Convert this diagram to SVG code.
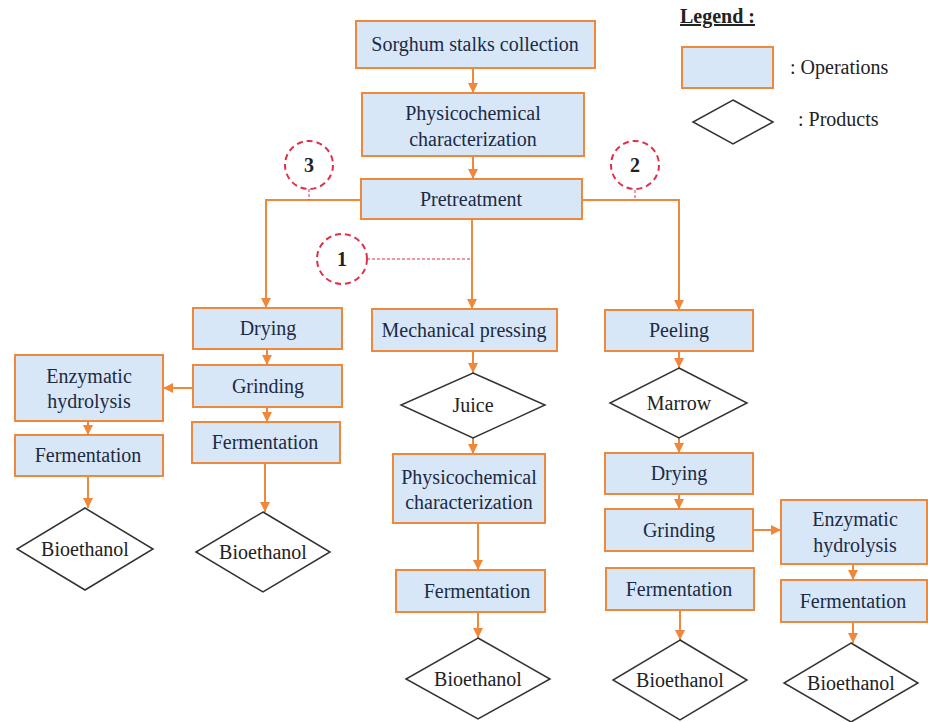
<svg xmlns="http://www.w3.org/2000/svg" width="928" height="722" viewBox="0 0 928 722">
<defs>
<style>
text{font-family:'Liberation Serif','DejaVu Serif',serif;font-size:20px}
.op{fill:#d8e7f8;stroke:#f0883c;stroke-width:2}
.pr{fill:#fff;stroke:#333;stroke-width:1.5}
.t{fill:#1c2a44;text-anchor:middle}
.tp{fill:#222;text-anchor:middle}
.c{fill:none;stroke:#f0883c;stroke-width:2}
.cir{fill:#fff;stroke:#e0304a;stroke-width:2;stroke-dasharray:6,4}
.dot{fill:none;stroke:#e0304a;stroke-width:1;stroke-dasharray:3,2}
.n{font-weight:bold;fill:#222;text-anchor:middle}
.lg{fill:#222}
</style>
<marker id="ah" markerUnits="userSpaceOnUse" markerWidth="10" markerHeight="10" refX="10" refY="5" orient="auto">
<path d="M0,0 L10,5 L0,10 z" fill="#f0883c"/>
</marker>
</defs>
<rect width="928" height="722" fill="#fff"/>

<g id="connectors">
<path class="c" marker-end="url(#ah)" d="M473,68 V93"/>
<path class="c" marker-end="url(#ah)" d="M473,156 V179"/>
<path class="c" marker-end="url(#ah)" d="M361,200 H266 V308"/>
<path class="c" marker-end="url(#ah)" d="M582,200 H679 V310"/>
<path class="c" marker-end="url(#ah)" d="M472,219 V309"/>
<path class="c" marker-end="url(#ah)" d="M267,349 V365"/>
<path class="c" marker-end="url(#ah)" d="M267,407 V422"/>
<path class="c" marker-end="url(#ah)" d="M193,388 H163"/>
<path class="c" marker-end="url(#ah)" d="M88,421 V435"/>
<path class="c" marker-end="url(#ah)" d="M88,476 V508"/>
<path class="c" marker-end="url(#ah)" d="M265,463 V512"/>
<path class="c" marker-end="url(#ah)" d="M473,351 V373"/>
<path class="c" marker-end="url(#ah)" d="M473,438 V454"/>
<path class="c" marker-end="url(#ah)" d="M478,523 V570"/>
<path class="c" marker-end="url(#ah)" d="M478,612 V638"/>
<path class="c" marker-end="url(#ah)" d="M679,351 V368"/>
<path class="c" marker-end="url(#ah)" d="M679,438 V453"/>
<path class="c" marker-end="url(#ah)" d="M679,494 V509"/>
<path class="c" marker-end="url(#ah)" d="M680,610 V640"/>
<path class="c" marker-end="url(#ah)" d="M753,530 H781"/>
<path class="c" marker-end="url(#ah)" d="M853,564 V580"/>
<path class="c" marker-end="url(#ah)" d="M853,622 V643"/>
<path class="dot" d="M309,189 V200"/>
<path class="dot" d="M635,190 V200"/>
<path class="dot" d="M367,259 H472"/>
</g>

<g id="n-collect"><rect class="op" x="356" y="21" width="239" height="47"/><text class="t" x="475" y="51">Sorghum stalks collection</text></g>
<g id="n-physico1"><rect class="op" x="362" y="93" width="222" height="63"/><text class="t" x="473" y="120">Physicochemical</text><text class="t" x="473" y="146">characterization</text></g>
<g id="n-pretreat"><rect class="op" x="361" y="179" width="221" height="40"/><text class="t" x="471" y="206">Pretreatment</text></g>

<g id="c3"><circle class="cir" cx="309" cy="165" r="24"/><text class="n" x="309" y="172">3</text></g>
<g id="c2"><circle class="cir" cx="635" cy="165" r="24"/><text class="n" x="635" y="172">2</text></g>
<g id="c1"><circle class="cir" cx="342" cy="259" r="25"/><text class="n" x="342" y="266">1</text></g>

<g id="n-drying1"><rect class="op" x="193" y="308" width="149" height="41"/><text class="t" x="268" y="335">Drying</text></g>
<g id="n-grind1"><rect class="op" x="193" y="365" width="149" height="42"/><text class="t" x="268" y="393">Grinding</text></g>
<g id="n-ferm1b"><rect class="op" x="192" y="422" width="148" height="41"/><text class="t" x="265" y="449">Fermentation</text></g>
<g id="n-enz1"><rect class="op" x="15" y="355" width="148" height="66"/><text class="t" x="89" y="383">Enzymatic</text><text class="t" x="89" y="408">hydrolysis</text></g>
<g id="n-ferm1a"><rect class="op" x="15" y="435" width="148" height="41"/><text class="t" x="88" y="462">Fermentation</text></g>
<g id="n-bio1a"><polygon class="pr" points="85,508 153,549 85,590 17,549"/><text class="tp" x="85" y="556">Bioethanol</text></g>
<g id="n-bio1b"><polygon class="pr" points="263,512 330,552 263,592 196,552"/><text class="tp" x="263" y="559">Bioethanol</text></g>

<g id="n-mech"><rect class="op" x="372" y="309" width="185" height="42"/><text class="t" x="464" y="337">Mechanical pressing</text></g>
<g id="n-juice"><polygon class="pr" points="473,373 545,405 473,438 401,405"/><text class="tp" x="473" y="412">Juice</text></g>
<g id="n-physico2"><rect class="op" x="393" y="454" width="152" height="69"/><text class="t" x="469" y="484">Physicochemical</text><text class="t" x="469" y="509">characterization</text></g>
<g id="n-ferm2"><rect class="op" x="396" y="570" width="149" height="42"/><text class="t" x="477" y="598">Fermentation</text></g>
<g id="n-bio2"><polygon class="pr" points="478,638 550,679 478,719 406,679"/><text class="tp" x="478" y="686">Bioethanol</text></g>

<g id="n-peel"><rect class="op" x="605" y="310" width="148" height="41"/><text class="t" x="679" y="337">Peeling</text></g>
<g id="n-marrow"><polygon class="pr" points="679,368 747,403 679,438 610,403"/><text class="tp" x="679" y="410">Marrow</text></g>
<g id="n-drying2"><rect class="op" x="605" y="453" width="148" height="41"/><text class="t" x="679" y="480">Drying</text></g>
<g id="n-grind2"><rect class="op" x="605" y="509" width="148" height="42"/><text class="t" x="679" y="537">Grinding</text></g>
<g id="n-ferm3a"><rect class="op" x="606" y="568" width="148" height="42"/><text class="t" x="679" y="596">Fermentation</text></g>
<g id="n-bio3a"><polygon class="pr" points="680,640 747,680 680,720 613,680"/><text class="tp" x="680" y="687">Bioethanol</text></g>
<g id="n-enz3"><rect class="op" x="781" y="500" width="146" height="64"/><text class="t" x="855" y="526">Enzymatic</text><text class="t" x="855" y="552">hydrolysis</text></g>
<g id="n-ferm3b"><rect class="op" x="781" y="580" width="146" height="42"/><text class="t" x="853" y="608">Fermentation</text></g>
<g id="n-bio3b"><polygon class="pr" points="851,643 918,683 851,722 784,683"/><text class="tp" x="851" y="690">Bioethanol</text></g>

<g id="legend">
<text class="lg" x="680" y="23" font-weight="bold" text-decoration="underline">Legend :</text>
<rect class="op" x="682" y="47" width="91" height="41"/>
<text class="lg" x="790" y="74">: Operations</text>
<polygon class="pr" points="733,100 773,122 733,144 693,122"/>
<text class="lg" x="798" y="126">: Products</text>
</g>
</svg>
